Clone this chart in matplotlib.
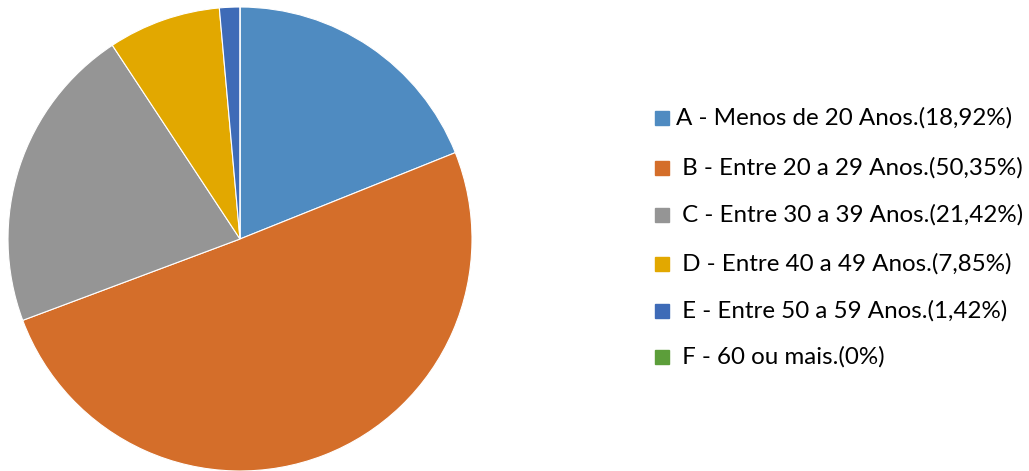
import matplotlib.pyplot as plt
from matplotlib.patches import Rectangle

# Dados
rotulos = ["A - Menos de 20 Anos.(18,92%)",
           " B - Entre 20 a 29 Anos.(50,35%)",
           " C - Entre 30 a 39 Anos.(21,42%)",
           " D - Entre 40 a 49 Anos.(7,85%)",
           " E - Entre 50 a 59 Anos.(1,42%)",
           " F - 60 ou mais.(0%)"]
valores = [18.92, 50.35, 21.42, 7.85, 1.42, 0]
cores = ['#4f8bc1', '#d46e2a', '#959595', '#e2a800', '#3e6bb7', '#5c9e3a']

W, H = 1029, 471
fig = plt.figure(figsize=(W / 100, H / 100), dpi=100)

# pizza: centro (240, 239), raio 232 px
cx, cy, r = 240, 239, 232
ax = fig.add_axes([(cx - r) / W, (H - cy - r) / H, 2 * r / W, 2 * r / H])
ax.pie(valores, colors=cores, startangle=90, counterclock=False, radius=1,
       wedgeprops=dict(edgecolor='white', linewidth=0.8))
ax.set_xlim(-1, 1)
ax.set_ylim(-1, 1)
ax.set_aspect('equal')
ax.axis('off')

# legenda manual
ys = [118, 168, 215, 264, 311, 357]
for rot, cor, y in zip(rotulos, cores, ys):
    fig.add_artist(Rectangle(((655) / W, (H - y - 7) / H), 14 / W, 14 / H,
                             transform=fig.transFigure, color=cor))
    fig.text(676 / W, (H - y) / H, rot, fontsize=17.4, family='Lato',
             va='center', ha='left', color='black')

fig.savefig('out.png', dpi=100)
